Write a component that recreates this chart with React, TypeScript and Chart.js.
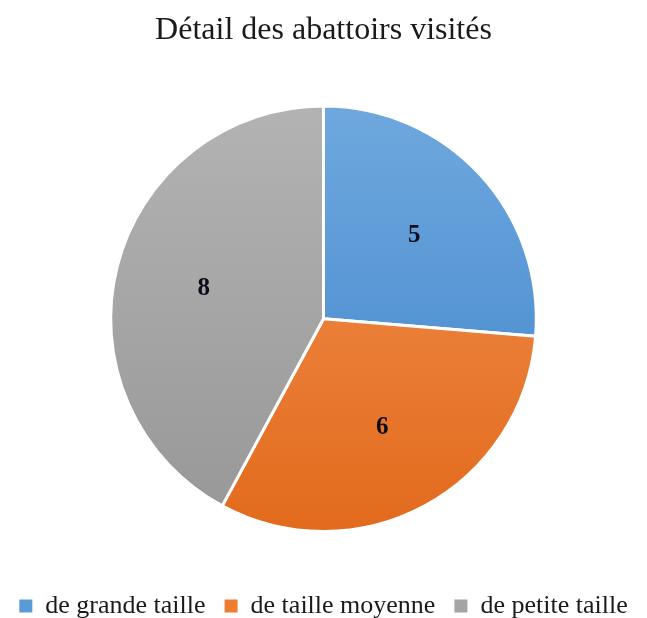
import React, { useEffect, useRef } from "react";
import { Chart, registerables } from "chart.js";

Chart.register(...registerables);

const categories = ["de grande taille", "de taille moyenne", "de petite taille"];
const values = [5, 6, 8];
const chartTitle = "Détail des abattoirs visités";

const gradStops: [string, string][] = [
  ["#6FA8DE", "#3E83CB"],
  ["#F39454", "#E26A1C"],
  ["#B3B3B3", "#979797"],
];
const legendColors = ["#5B9BD5", "#ED7D31", "#A5A5A5"];
const serif = "'Liberation Serif', 'Times New Roman', serif";

const labelPlugin = {
  id: "sliceLabels",
  afterDatasetsDraw(chart: any) {
    const ctx = chart.ctx;
    const meta = chart.getDatasetMeta(0);
    ctx.save();
    ctx.font = "bold 25px " + serif;
    ctx.fillStyle = "#0d0d1a";
    ctx.textAlign = "center";
    ctx.textBaseline = "middle";
    meta.data.forEach((arc: any, i: number) => {
      const p = arc.getProps(["x", "y", "startAngle", "endAngle", "outerRadius"], true);
      const mid = (p.startAngle + p.endAngle) / 2;
      const r = p.outerRadius * 0.58;
      ctx.fillText(String(values[i]), p.x + Math.cos(mid) * r, p.y + Math.sin(mid) * r);
    });
    ctx.restore();
  },
};

export default function App() {
  const ref = useRef<HTMLCanvasElement>(null);
  useEffect(() => {
    if (!ref.current) return;
    const chart = new Chart(ref.current, {
      type: "pie",
      data: {
        labels: categories,
        datasets: [
          {
            data: values,
            backgroundColor: (c: any) => {
              const ch = c.chart;
              const area = ch.chartArea;
              const i = c.dataIndex;
              if (!area || i === undefined) return legendColors[i ?? 0];
              const g = ch.ctx.createLinearGradient(0, area.top, 0, area.bottom);
              g.addColorStop(0, gradStops[i][0]);
              g.addColorStop(1, gradStops[i][1]);
              return g;
            },
            borderColor: "#ffffff",
            borderWidth: 3,
          },
        ],
      },
      options: {
        animation: false,
        responsive: true,
        maintainAspectRatio: false,
        layout: { padding: 0 },
        plugins: {
          title: {
            display: true,
            text: chartTitle,
            color: "#1a1a1a",
            font: { family: serif, size: 32, weight: "normal" },
            padding: { top: 11, bottom: 55 },
          },
          legend: {
            position: "bottom",
            title: { display: true, text: " ", font: { size: 10 }, padding: { top: 29, bottom: 0 } },
            labels: {
              color: "#1a1a1a",
              font: { family: serif, size: 26 },
              boxWidth: 13,
              boxHeight: 13,
              padding: 19,
              generateLabels: () =>
                categories.map((t, i) => ({
                  text: t,
                  fillStyle: legendColors[i],
                  strokeStyle: legendColors[i],
                  fontColor: "#1a1a1a",
                  lineWidth: 0,
                  index: i,
                  hidden: false,
                })),
            },
          },
          tooltip: { enabled: false },
        },
      },
      plugins: [labelPlugin],
    });
    return () => chart.destroy();
  }, []);
  return (
    <div style={{ position: "fixed", left: 0, top: 0, width: 647, height: 629, background: "#fff" }}>
      <canvas ref={ref} />
    </div>
  );
}
